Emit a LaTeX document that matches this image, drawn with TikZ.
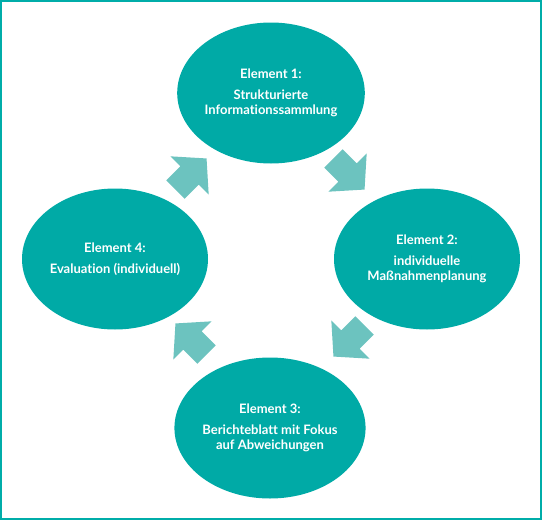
\documentclass[tikz,border=0pt]{standalone}
\usepackage{fontspec}
\setmainfont{Lato}[UprightFont=* Bold, Ligatures=NoCommon]
\usetikzlibrary{shapes.geometric}
\definecolor{teal1}{HTML}{00AAA6}
\definecolor{teal2}{HTML}{6CC3BF}
\definecolor{frame1}{HTML}{00ADA9}
\tikzset{
  elem/.style={ellipse, fill=teal1, draw=none, minimum width=186pt, minimum height=141pt,
    inner sep=0pt, align=center, text=white, font=\fontsize{13}{15}\selectfont},
  blockarrow/.style={fill=teal2, draw=none}
}
\newcommand{\blockarr}[2]{%
  \begin{scope}[shift={#1}, rotate=#2]
    \fill[blockarrow] (-22,13) -- (-2,13) -- (-2,27) -- (22,0) -- (-2,-27) -- (-2,-13) -- (-22,-13) -- cycle;
  \end{scope}}
\begin{document}
\begin{tikzpicture}[x=1pt, y=-1pt]
\useasboundingbox (0,0) rectangle (542,520);
\draw[frame1, line width=2pt] (1,1) rectangle (541,519);
\node[elem] (e1) at (271,93) {Element 1:\\[6pt]Strukturierte\\Informationssammlung};
\node[elem] (e2) at (427,259) {Element 2:\\[6pt]individuelle\\Maßnahmenplanung};
\node[elem] (e3) at (270,428) {Element 3:\\[6pt]Berichteblatt mit Fokus\\auf Abweichungen};
\node[elem] (e4) at (115,259) {Element 4:\\[6pt]Evaluation (individuell)};
\coordinate (a1) at (191,174);
\coordinate (a2) at (349,174);
\coordinate (a3) at (349,341);
\coordinate (a4) at (191,339);
\blockarr{(a1)}{45}
\blockarr{(a2)}{-45}
\blockarr{(a3)}{-135}
\blockarr{(a4)}{135}
\end{tikzpicture}
\end{document}
